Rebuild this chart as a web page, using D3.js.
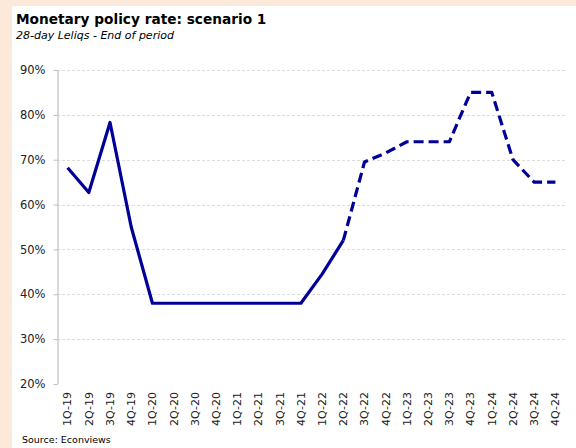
<!DOCTYPE html>
<html>
<head>
<meta charset="utf-8">
<script src="https://cdn.jsdelivr.net/npm/d3@7/dist/d3.min.js"></script>
<style>
  html, body { margin: 0; padding: 0; background: #fde9d9; }
  svg { display: block; }
</style>
</head>
<body>
<svg id="chart" width="576" height="448"></svg>
<script>
// Quarterly policy rate path (%), actual through 2Q-22 and projected afterwards
const quarters = ["1Q-19","2Q-19","3Q-19","4Q-19","1Q-20","2Q-20","3Q-20","4Q-20",
                  "1Q-21","2Q-21","3Q-21","4Q-21","1Q-22","2Q-22","3Q-22","4Q-22",
                  "1Q-23","2Q-23","3Q-23","4Q-23","1Q-24","2Q-24","3Q-24","4Q-24"];
const rates = [68.2, 62.7, 78.3, 55.0, 38.0, 38.0, 38.0, 38.0,
               38.0, 38.0, 38.0, 38.0, 44.5, 52.0, 69.5, 71.5,
               74.0, 74.0, 74.0, 85.0, 85.0, 70.0, 65.0, 65.0];
const lastActual = "2Q-22";
const yTicks = [20, 30, 40, 50, 60, 70, 80, 90];

const svg = d3.select("#chart");
const font = "DejaVu Sans, Verdana, sans-serif";

// white panel over the peach page background
svg.append("rect").attr("x", 12).attr("y", 6).attr("width", 564).attr("height", 442).attr("fill", "#ffffff");

const plotLeft = 57, plotRight = 566, plotTop = 70, plotBottom = 384;
const x = d3.scaleBand().domain(quarters).range([plotLeft, plotRight]);
const y = d3.scaleLinear().domain([20, 90]).range([plotBottom, plotTop]);

// title block
svg.append("text").attr("x", 16).attr("y", 24)
  .attr("font-family", font).attr("font-weight", "bold").attr("font-size", 13.7)
  .attr("fill", "#000").text("Monetary policy rate: scenario 1");
svg.append("text").attr("x", 16).attr("y", 39)
  .attr("font-family", font).attr("font-style", "italic").attr("font-size", 11)
  .attr("fill", "#000").text("28-day Leliqs - End of period");

// horizontal gridlines
svg.append("g").selectAll("line").data(yTicks.filter(t => t > 20)).join("line")
  .attr("x1", plotLeft).attr("x2", plotRight)
  .attr("y1", d => Math.round(y(d)) + 0.5).attr("y2", d => Math.round(y(d)) + 0.5)
  .attr("stroke", "#dcdcdc").attr("stroke-width", 1).attr("stroke-dasharray", "3,2");

// y axis
const yAxis = svg.append("g").attr("transform", `translate(${plotLeft + 0.5},0)`)
  .call(d3.axisLeft(y).tickValues(yTicks).tickFormat(d => d + "%").tickSize(4).tickSizeOuter(0));
yAxis.select(".domain").attr("stroke", "#bfbfbf").attr("stroke-width", 1.2);
yAxis.selectAll(".tick line").attr("stroke", "#bfbfbf");
yAxis.selectAll(".tick text").attr("font-family", font).attr("font-size", 11.5)
  .attr("fill", "#222").attr("x", -12);

// x axis labels, rotated
const xAxis = svg.append("g").attr("transform", `translate(0,${plotBottom})`)
  .call(d3.axisBottom(x).tickSize(0));
xAxis.select(".domain").remove();
xAxis.selectAll(".tick text")
  .attr("font-family", font).attr("font-size", 11).attr("fill", "#222")
  .attr("transform", "rotate(-90)")
  .attr("text-anchor", "end").attr("dy", "0.35em").attr("x", -8).attr("y", 0);

// line: solid for actual values, dashed for the projection
const pts = quarters.map((q, i) => ({ q, v: rates[i] }));
const split = quarters.indexOf(lastActual);
const line = d3.line().x(d => x(d.q) + x.bandwidth() / 2).y(d => y(d.v));

svg.append("path").datum(pts.slice(0, split + 1))
  .attr("d", line).attr("fill", "none").attr("stroke", "#000099")
  .attr("stroke-width", 3.2).attr("stroke-linejoin", "round");
svg.append("path").datum(pts.slice(split))
  .attr("d", line).attr("fill", "none").attr("stroke", "#000099")
  .attr("stroke-width", 3.2).attr("stroke-linejoin", "round")
  .attr("stroke-dasharray", "10,5");

// source note
svg.append("text").attr("x", 22).attr("y", 443)
  .attr("font-family", font).attr("font-size", 9.5).attr("fill", "#000")
  .text("Source: Econviews");
</script>
</body>
</html>
